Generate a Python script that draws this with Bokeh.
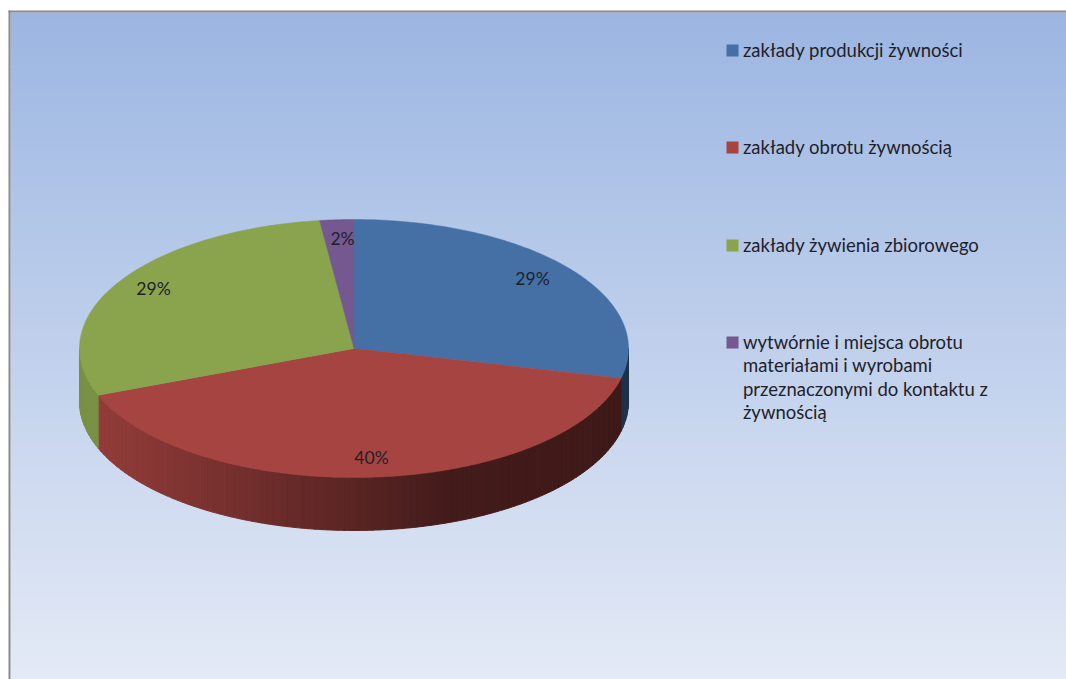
import numpy as np
from bokeh.plotting import figure
from bokeh.models import Range1d
from bokeh.core.properties import value
from bokeh.embed import file_html
from bokeh.resources import INLINE

# ---- data
categories = ["zakłady produkcji żywności", "zakłady obrotu żywnością",
              "zakłady żywienia zbiorowego",
              "wytwórnie i miejsca obrotu\nmateriałami i wyrobami\nprzeznaczonymi do kontaktu z\nżywnością"]
shares = [28.7, 40.4, 28.9, 2.0]
colors = ["#4570A5", "#A64441", "#89A44D", "#75588F"]
# ---- styles
CX, CY, RX, RY, DEPTH = 353.5, 348.0, 274.5, 129.0, 53.0
FONT = "Lato"
TEXT = "#1f1f2b"

p = figure(width=1066, height=679, output_backend="svg", toolbar_location=None,
           x_range=Range1d(0, 1066), y_range=Range1d(679, 0),
           x_axis_type="linear", min_border=0)
p.axis.visible = False
p.grid.visible = False
p.outline_line_color = None
p.background_fill_color = "white"
p.border_fill_color = "white"

def hex2rgb(h):
    return np.array([int(h[i:i+2], 16) for i in (1, 3, 5)], float)
def rgb2hex(c):
    return "#%02x%02x%02x" % tuple(int(round(v)) for v in np.clip(c, 0, 255))

# background gradient and frame
ys = np.arange(12, 679, 4.0)
top, bot = hex2rgb("#9CB6E2"), hex2rgb("#E4EAF6")
gcols = [rgb2hex(top + (bot - top) * (y - 12) / 667) for y in ys]
p.quad(left=10, right=1066, top=ys, bottom=ys + 5, fill_color=gcols, line_color=None)
p.quad(left=[8, 8], right=[10, 1066], top=[10, 10], bottom=[679, 12],
       fill_color="#8A8A8E", line_color=None)

# angles clockwise from 12 o'clock
fr = np.array(shares) / sum(shares)
edges = np.concatenate([[0], np.cumsum(fr)]) * 2 * np.pi
def ell(a, dy=0.0):
    return CX + RX * np.sin(a), CY - RY * np.cos(a) + dy

def side_color(i, x):
    base = hex2rgb(colors[i])
    if i == 1:
        f = np.interp(x, [97, 220, 350, 450, 620], [0.88, 0.72, 0.54, 0.40, 0.37])
    elif i == 0:
        f = 0.45
    elif i == 2:
        f = 0.88
    else:
        f = 0.6
    return rgb2hex(base * f)

# side wall: visible for the lower half of the ellipse
xs_side, ys_side, c_side = [], [], []
for i in range(len(shares)):
    a0 = max(edges[i], np.pi / 2)
    a1 = min(edges[i + 1], 3 * np.pi / 2)
    if a1 <= a0:
        continue
    n = max(2, int(np.degrees(a1 - a0) / 1.5))
    bounds = np.linspace(a0, a1, n + 1)
    for s, e in zip(bounds[:-1], bounds[1:]):
        aa = np.linspace(s, e, 4)
        x1, y1 = ell(aa)
        x2, y2 = ell(aa[::-1], DEPTH)
        xs_side.append(np.concatenate([x1, x2]))
        ys_side.append(np.concatenate([y1, y2]))
        c_side.append(side_color(i, x1.mean()))
p.patches(xs_side, ys_side, fill_color=c_side, line_color=c_side, line_width=1)

# top face
xs_top, ys_top = [], []
for i in range(len(shares)):
    aa = np.linspace(edges[i], edges[i + 1], 120)
    x, y = ell(aa)
    xs_top.append(np.concatenate([[CX], x]))
    ys_top.append(np.concatenate([[CY], y]))
p.patches(xs_top, ys_top, fill_color=colors, line_color=colors, line_width=0.5)

# percentage labels
lab_x = [532, 371, 153, 342]
lab_y = [278, 457, 288, 238]
p.text(lab_x, lab_y, text=["%d%%" % round(v) for v in shares],
       text_align="center", text_baseline="middle", text_font=value(FONT),
       text_font_size="17.5px", text_color=TEXT)

# legend
leg_y = [49, 146, 244, 341]
p.quad(left=726, right=738, top=[y - 5 for y in leg_y], bottom=[y + 7 for y in leg_y],
       fill_color=colors, line_color=None)
tx, ty, tt = [], [], []
for y, name in zip(leg_y, categories):
    for j, line in enumerate(name.split("\n")):
        tx.append(742.5); ty.append(y + j * 23.6); tt.append(line)
p.text(tx, ty, text=tt, text_align="left", text_baseline="middle",
       text_font=value(FONT), text_font_size="18.5px", text_color=TEXT)

open("out.html", "w").write(file_html(p, INLINE))
